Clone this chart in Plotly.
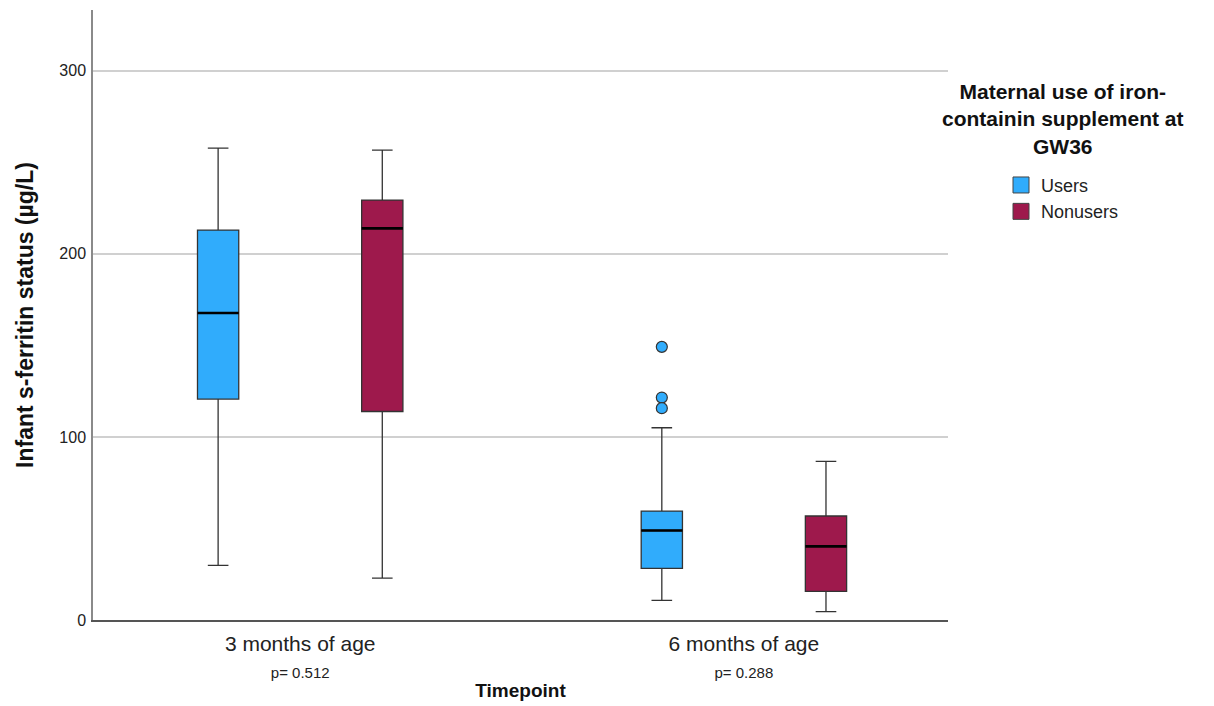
import plotly.graph_objects as go

# ---- data ----
categories = ["3 months of age", "6 months of age"]
p_values = ["p= 0.512", "p= 0.288"]
series = ["Users", "Nonusers"]
series_colors = ["#30acfc", "#9e194c"]

users_low = [29.8, 10.7]
users_q1 = [120.7, 28.2]
users_median = [167.7, 48.9]
users_q3 = [213.0, 59.5]
users_high = [257.8, 105.0]

nonusers_low = [22.9, 4.6]
nonusers_q1 = [113.9, 15.6]
nonusers_median = [213.9, 40.2]
nonusers_q3 = [229.4, 56.8]
nonusers_high = [256.7, 86.7]

users_outliers_6m = [149.2, 121.5, 115.7]

y_ticks = [0, 100, 200, 300]
legend_title = "Maternal use of iron-<br>containin supplement at<br>GW36"

# ---- layout constants ----
offsets = [-0.185, 0.185]
box_width = 0.093
reg = "Liberation Sans, Arial, sans-serif"
narrow = "Liberation Sans Narrow, Arial Narrow, Liberation Sans, Arial"

stats = [
    (users_low, users_q1, users_median, users_q3, users_high),
    (nonusers_low, nonusers_q1, nonusers_median, nonusers_q3, nonusers_high),
]

fig = go.Figure()
cat_idx = list(range(len(categories)))

for s, (name, col, off) in enumerate(zip(series, series_colors, offsets)):
    low, q1, med, q3, high = stats[s]
    pos = [i + off for i in cat_idx]
    fig.add_trace(go.Box(
        x=pos, q1=q1, median=med, q3=q3, lowerfence=low, upperfence=high,
        width=box_width, whiskerwidth=0.5,
        fillcolor=col, line=dict(color="#333333", width=1.3),
        name=name, legendgroup=name, showlegend=False, boxpoints=False,
        hoverinfo="skip",
    ))
    # median lines (black, thicker)
    mx, my = [], []
    for p, m in zip(pos, med):
        mx += [p - box_width / 2, p + box_width / 2, None]
        my += [m, m, None]
    fig.add_trace(go.Scatter(
        x=mx, y=my, mode="lines", line=dict(color="black", width=2.6),
        showlegend=False, hoverinfo="skip",
    ))
    # legend entry (square swatch)
    fig.add_trace(go.Scatter(
        x=[None], y=[None], mode="markers", name=name, legendgroup=name,
        marker=dict(symbol="square", size=16, color=col, line=dict(color="#444", width=1)),
        showlegend=True, hoverinfo="skip",
    ))

# outliers for Users at 6 months
fig.add_trace(go.Scatter(
    x=[1 + offsets[0]] * len(users_outliers_6m), y=users_outliers_6m,
    mode="markers",
    marker=dict(size=11, color=series_colors[0], line=dict(color="#333", width=1.2)),
    showlegend=False, hoverinfo="skip",
))

ticktext = [f"{c}<br><span style='font-size:15px'>{p}</span>" for c, p in zip(categories, p_values)]

plot_top, plot_h = 10, 610

fig.update_layout(
    width=1214, height=706,
    margin=dict(l=93, r=266, t=10, b=86, autoexpand=False),
    paper_bgcolor="white", plot_bgcolor="white",
    font=dict(family=reg, color="#222"),
    showlegend=True,
    legend=dict(
        x=1.062, y=0.743, xanchor="left", yanchor="top",
        font=dict(family=reg, size=18, color="#222"),
        tracegroupgap=0, itemwidth=30,
    ),
    xaxis=dict(
        range=[-0.467, 1.46], tickmode="array", tickvals=cat_idx, ticktext=ticktext,
        tickfont=dict(family=narrow, size=21, color="#222"),
        showgrid=False, zeroline=False, showline=True, linecolor="#555", linewidth=1.5,
        ticks="", ticklabelstandoff=4, automargin=False,
        title=dict(text="<b>Timepoint</b>", font=dict(family=reg, size=19, color="#111"), standoff=3),
    ),
    yaxis=dict(
        range=[0, 333.2], tickmode="array", tickvals=y_ticks,
        tickfont=dict(family=reg, size=16, color="#222"),
        showgrid=True, gridcolor="#d0d0d0", gridwidth=1.5,
        zeroline=False, showline=True, linecolor="#8a8a8a", linewidth=1.5,
        ticks="", ticklabelstandoff=2, automargin=False,
        title=dict(text="<b>Infant s-ferritin status (µg/L)</b>", font=dict(family=reg, size=23, color="#111"), standoff=19),
    ),
    annotations=[dict(
        text=f"<b>{legend_title}</b>", xref="paper", yref="paper",
        x=(1063 - 93) / 855, y=1 - (119 - plot_top) / plot_h,
        xanchor="center", yanchor="middle", showarrow=False, align="center",
        font=dict(family=reg, size=21, color="#111"),
    )],
)

fig.write_html("out.html")
